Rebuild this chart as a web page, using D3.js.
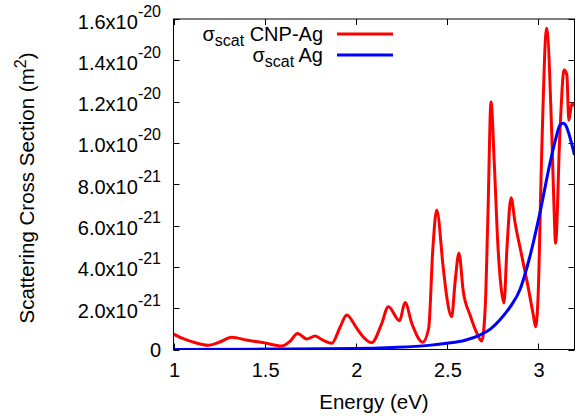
<!DOCTYPE html>
<html>
<head>
<meta charset="utf-8">
<script src="https://cdn.jsdelivr.net/npm/d3@7"></script>
<style>
  body { margin: 0; background: #fff; }
  text { font-family: "Liberation Sans", Arial, sans-serif; fill: #000; }
</style>
</head>
<body>
<div id="chart"></div>
<script>
// values are in units of 1e-21 m^2
const cnpEnergy = [1.0, 1.05, 1.1, 1.19, 1.25, 1.32, 1.4, 1.5, 1.594, 1.64, 1.68, 1.731, 1.777, 1.82, 1.868,
  1.915, 1.95, 2.006, 2.04, 2.088, 2.14, 2.179, 2.24, 2.27, 2.31, 2.367, 2.40, 2.423, 2.444, 2.48, 2.50,
  2.526, 2.545, 2.566, 2.59, 2.627, 2.665, 2.691, 2.71, 2.725, 2.742, 2.76, 2.78, 2.80, 2.813, 2.83,
  2.852, 2.873, 2.91, 2.947, 2.974, 2.987, 3.00, 3.02, 3.047, 3.075, 3.089, 3.096, 3.12, 3.143, 3.158,
  3.169, 3.185, 3.2]
const cnpValues = [0.74, 0.54, 0.38, 0.2, 0.35, 0.59, 0.46, 0.32, 0.17, 0.4, 0.78, 0.51, 0.65, 0.45, 0.30,
  1.1, 1.67, 1.02, 0.62, 0.33, 1.2, 2.07, 1.39, 2.27, 1.2, 0.35, 1.03, 4.9, 6.75, 3.95, 2.5,
  1.59, 3.28, 4.66, 2.8, 1.67, 0.78, 0.41, 2.0, 6.5, 12.0, 9.0, 5.0, 2.8, 2.25, 5.0,
  7.35, 6.19, 4.57, 2.96, 1.67, 1.10, 2.5, 9.5, 15.55, 10.5, 6.5, 5.14, 10.5, 13.53, 13.3,
  11.1, 11.9, 11.8]

const agEnergy = [1.0, 1.5, 2.0, 2.2, 2.4, 2.5, 2.6, 2.68, 2.74, 2.79, 2.85, 2.9, 2.955, 3.01, 3.065,
  3.1, 3.12, 3.138, 3.155, 3.174, 3.2]
const agValues = [0.0, 0.02, 0.05, 0.1, 0.2, 0.3, 0.45, 0.7, 1.0, 1.43, 2.1, 2.88, 4.49, 6.6, 9.0,
  10.3, 10.87, 10.95, 10.8, 10.3, 9.42]

const xTicks = [1, 1.5, 2, 2.5, 3]
const xTickLabels = ["1", "1.5", "2", "2.5", "3"]
const yTicks = [0, 2, 4, 6, 8, 10, 12, 14, 16]
const yTickLabels = ["0", "2.0x10^-21", "4.0x10^-21", "6.0x10^-21", "8.0x10^-21",
  "1.0x10^-20", "1.2x10^-20", "1.4x10^-20", "1.6x10^-20"]
const seriesNames = ["CNP-Ag", "Ag"]
const seriesColors = ["#ff0000", "#0000ff"]

const width = 579, height = 420
const margin = {top: 19, right: 4.5, bottom: 70.5, left: 173.5}

const svg = d3.select("#chart").append("svg")
  .attr("width", width).attr("height", height)

const x = d3.scaleLinear().domain([1, 3.2]).range([margin.left, width - margin.right])
const y = d3.scaleLinear().domain([0, 16]).range([height - margin.bottom, margin.top])

const plotW = width - margin.left - margin.right
const plotH = height - margin.top - margin.bottom

// clip so lines stay inside the frame
svg.append("clipPath").attr("id", "clip").append("rect")
  .attr("x", margin.left).attr("y", margin.top).attr("width", plotW).attr("height", plotH)

// ticks (inward, mirrored on top and right)
const tickLen = 6
const ticks = svg.append("g").attr("stroke", "#000").attr("stroke-width", 1)
xTicks.forEach(function(t) {
  const px = Math.round(x(t)) + 0.5
  ticks.append("line").attr("x1", px).attr("x2", px)
    .attr("y1", y(0)).attr("y2", y(0) - tickLen)
  ticks.append("line").attr("x1", px).attr("x2", px)
    .attr("y1", margin.top).attr("y2", margin.top + tickLen)
})
yTicks.forEach(function(t) {
  const py = Math.round(y(t)) + 0.5
  ticks.append("line").attr("x1", margin.left).attr("x2", margin.left + tickLen)
    .attr("y1", py).attr("y2", py)
  ticks.append("line").attr("x1", width - margin.right).attr("x2", width - margin.right - tickLen)
    .attr("y1", py).attr("y2", py)
})

// x tick labels
svg.append("g").selectAll("text").data(xTicks).enter().append("text")
  .attr("x", function(d) { return x(d) + 1 })
  .attr("y", 377)
  .attr("text-anchor", "middle")
  .style("font-size", "20px")
  .text(function(d, i) { return xTickLabels[i] })

// y tick labels with superscript exponent
yTicks.forEach(function(t, i) {
  const parts = yTickLabels[i].split("^")
  const label = svg.append("text")
    .attr("x", 161)
    .attr("y", y(t) + (parts.length > 1 ? 9.5 : 7.2))
    .attr("text-anchor", "end")
    .style("font-size", "20px")
  label.append("tspan").text(parts[0])
  if (parts.length > 1) {
    label.append("tspan").attr("dy", -12).style("font-size", "16px").text(parts[1])
  }
})

// axis titles
svg.append("text")
  .attr("x", (margin.left + width - margin.right) / 2)
  .attr("y", 409)
  .attr("text-anchor", "middle")
  .style("font-size", "20.5px")
  .text("Energy (eV)")

const yTitle = svg.append("text")
  .attr("transform", "translate(34," + 188 + ") rotate(-90)")
  .attr("text-anchor", "middle")
  .style("font-size", "20.5px")
yTitle.append("tspan").text("Scattering Cross Section (m")
yTitle.append("tspan").attr("dy", -8).style("font-size", "16px").text("2")
yTitle.append("tspan").attr("dy", 8).text(")")

// curves: CNP-Ag first, Ag drawn on top
const line = d3.line()
  .x(function(d) { return x(d[0]) })
  .y(function(d) { return y(d[1]) })
  .curve(d3.curveMonotoneX)

const curves = [d3.zip(cnpEnergy, cnpValues), d3.zip(agEnergy, agValues)]
svg.append("g").attr("clip-path", "url(#clip)")
  .selectAll("path").data(curves).enter().append("path")
  .attr("d", line)
  .attr("fill", "none")
  .attr("stroke", function(d, i) { return seriesColors[i] })
  .attr("stroke-width", 3)
  .attr("stroke-linejoin", "round")

// frame
svg.append("rect")
  .attr("x", margin.left).attr("y", margin.top)
  .attr("width", plotW).attr("height", plotH)
  .attr("fill", "none").attr("stroke", "#000").attr("stroke-width", 1)

// legend
const legend = svg.append("g")
seriesNames.forEach(function(name, i) {
  const by = 40.7 + i * 21
  const t = legend.append("text")
    .attr("x", 323).attr("y", by)
    .attr("text-anchor", "end")
    .style("font-size", "20px")
  t.append("tspan").text("σ")
  t.append("tspan").attr("dy", 5).style("font-size", "16px").text("scat")
  t.append("tspan").attr("dy", -5).text(" " + name)
  legend.append("line")
    .attr("x1", 337).attr("x2", 393)
    .attr("y1", by - 6.7).attr("y2", by - 6.7)
    .attr("stroke", seriesColors[i]).attr("stroke-width", 3)
})
</script>
</body>
</html>
